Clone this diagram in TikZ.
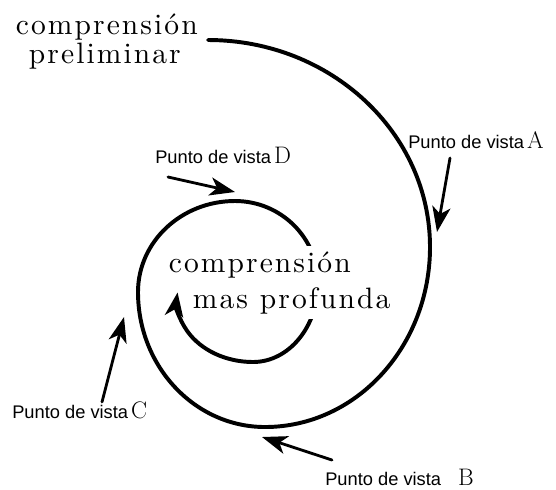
\documentclass[tikz,border=0pt]{standalone}
\usepackage{fontspec}
\newfontfamily\puntofont{Liberation Sans}
\newfontfamily\espaciada{lmroman10-regular.otf}[LetterSpace=7]
\usetikzlibrary{arrows.meta}
\newcommand{\letra}[1]{{\fontsize{17}{19}\rmfamily\selectfont #1}}
\tikzset{
	titulo/.style={anchor=base west, inner sep=0.5pt,
		font=\fontsize{21}{24}\espaciada},
	tapa/.style={titulo, fill=white, inner ysep=3.5pt},
	punto/.style={anchor=base west, inner sep=0pt, font=\fontsize{13}{15}\puntofont},
	flecha/.style={line width=2pt, -{Stealth[length=18pt,width=13pt,inset=5pt]}}
}
\begin{document}
\begin{tikzpicture}[x=0.025cm, y=-0.025cm, line join=round, line cap=round]
			\useasboundingbox (0,0) rectangle (556,489);
			% espiral
			\draw[line width=2.8pt, -{Stealth[length=17pt,width=13pt,inset=5pt]}] (208,40)
				arc[start angle=-90, end angle=0, x radius=222, y radius=207]
				arc[start angle=0, end angle=90, x radius=165, y radius=180]
				arc[start angle=90, end angle=180, x radius=127, y radius=135]
				arc[start angle=180, end angle=270, x radius=97, y radius=91]
				arc[start angle=270, end angle=360, x radius=83, y radius=82]
				arc[start angle=0, end angle=90, x radius=65, y radius=79]
				arc[start angle=90, end angle=187, x radius=76, y radius=62];
			\node[titulo] (prelim1) at (15,34) {comprensión};
			\node[titulo] (prelim2) at (28,63) {preliminar};
			\node[tapa] (prof1) at (168,272) {comprensión};
			\node[tapa] (prof2) at (192,308) {mas profunda};
			% puntos de vista
			\node[punto] (labA) at (408,148) {Punto de vista\,\letra{A}};
			\node[punto] (labB) at (325,485) {Punto de vista\hspace{12pt}\letra{B}};
			\node[punto] (labC) at (12,418) {Punto de vista\,\letra{C}};
			\node[punto] (labD) at (155,163) {Punto de vista\,\letra{D}};
			\coordinate (colaA) at (450,158);
			\coordinate (puntaA) at (437,232);
			\coordinate (colaB) at (332,460);
			\coordinate (puntaB) at (262,437);
			\coordinate (colaC) at (102,402);
			\coordinate (puntaC) at (124,317);
			\coordinate (colaD) at (168,177);
			\coordinate (puntaD) at (235,192);
			\draw[flecha] (colaA)--(puntaA);
			\draw[flecha] (colaB)--(puntaB);
			\draw[flecha] (colaC)--(puntaC);
			\draw[flecha] (colaD)--(puntaD);
\end{tikzpicture}
\end{document}
